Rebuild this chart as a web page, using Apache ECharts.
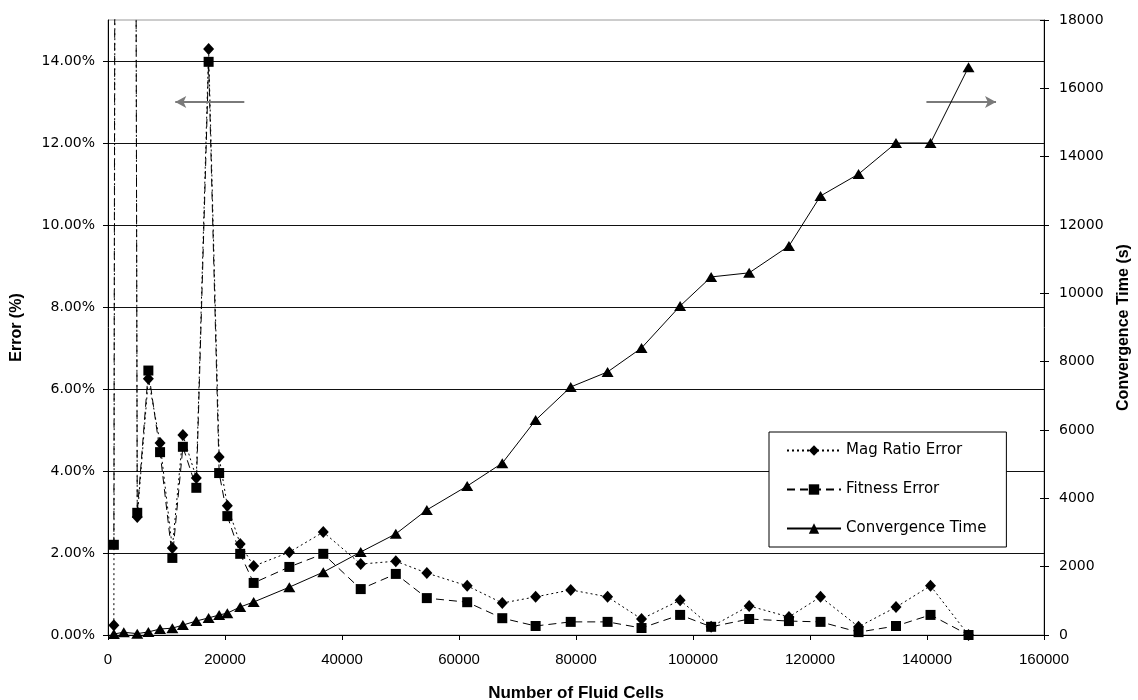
<!DOCTYPE html>
<html>
<head>
<meta charset="utf-8">
<title>Error and Convergence Time vs Number of Fluid Cells</title>
<script src="https://cdn.jsdelivr.net/npm/echarts@6/dist/echarts.min.js"></script>
<style>
  html, body { margin: 0; padding: 0; background: #fff; }
  #chart { width: 1138px; height: 700px; }
</style>
</head>
<body>
<div id="chart"></div>
<script>
// Mesh sizes (number of fluid cells) for each run
const fluidCells = [
  1000, 2700, 5000, 6900, 8900, 11000, 12800, 15100, 17200, 19000,
  20400, 22600, 24900, 31000, 36800, 43200, 49200, 54500, 61400, 67400,
  73100, 79100, 85400, 91200, 97800, 103100, 109600, 116400, 121800, 128300,
  134700, 140600, 147100
];

// Magnitude ratio error, percent
const magRatioError = [
  0.24, 150, 2.88, 6.25, 4.68, 2.12, 4.88, 3.83, 14.29, 4.34,
  3.15, 2.22, 1.68, 2.02, 2.51, 1.73, 1.80, 1.51, 1.20, 0.78,
  0.93, 1.10, 0.93, 0.39, 0.85, 0.20, 0.71, 0.44, 0.93, 0.20,
  0.68, 1.20, 0.00
];

// Fitness error, percent
const fitnessError = [
  2.20, 150, 2.98, 6.45, 4.46, 1.88, 4.59, 3.59, 13.98, 3.95,
  2.90, 1.98, 1.27, 1.66, 1.98, 1.12, 1.49, 0.90, 0.80, 0.41,
  0.22, 0.32, 0.32, 0.17, 0.49, 0.20, 0.39, 0.34, 0.32, 0.07,
  0.22, 0.49, 0.00
];

// Convergence time, seconds
const convergenceTime = [
  30, 80, 40, 90, 175, 200, 290, 410, 500, 585,
  640, 820, 965, 1400, 1840, 2430, 2960, 3660, 4360, 5030,
  6290, 7260, 7700, 8400, 9630, 10480, 10600, 11385, 12850, 13490,
  14400, 14400, 16620
];

const pair = (ys) => fluidCells.map((x, i) => [x, ys[i]]);
const plain = (v) => String(v);

const tickFont = { fontFamily: 'DejaVu Sans', fontSize: 14, color: '#000' };
const titleFont = { fontFamily: 'Liberation Sans', fontWeight: 'bold', fontSize: 16, color: '#000' };

const chart = echarts.init(document.getElementById('chart'), null, { renderer: 'canvas' });

chart.setOption({
  animation: false,
  backgroundColor: '#fff',
  grid: {
    left: 108, right: 94, top: 20, bottom: 65,
    containLabel: false,
    outerBoundsMode: 'none',
    show: true, borderColor: '#9a9a9a', borderWidth: 1, backgroundColor: 'transparent'
  },
  legend: {
    orient: 'vertical',
    left: 769, top: 432,
    backgroundColor: '#fff',
    borderColor: '#000', borderWidth: 1,
    padding: [11, 20, 11, 17],
    itemWidth: 54, itemHeight: 13, itemGap: 24,
    textStyle: { fontFamily: 'DejaVu Sans', fontSize: 15, color: '#000' },
    data: ['Mag Ratio Error', 'Fitness Error', 'Convergence Time']
  },
  xAxis: {
    type: 'value',
    min: 0, max: 160000, interval: 20000,
    name: 'Number of Fluid Cells',
    nameLocation: 'middle', nameGap: 50,
    nameTextStyle: { fontFamily: 'Liberation Sans', fontWeight: 'bold', fontSize: 17, color: '#000' },
    axisLine: { lineStyle: { color: '#000', width: 1 } },
    axisTick: { show: true, length: 5, lineStyle: { color: '#000' } },
    axisLabel: { margin: 17, fontFamily: 'Liberation Sans', fontSize: 15, color: '#000', formatter: plain },
    splitLine: { show: false }
  },
  yAxis: [
    {
      type: 'value',
      position: 'left',
      min: 0, max: 15, interval: 2,
      name: 'Error (%)',
      nameLocation: 'middle', nameGap: 83, nameRotate: 90,
      nameTextStyle: titleFont,
      axisLine: { show: true, lineStyle: { color: '#000', width: 1 } },
      axisTick: { show: true, length: 5, lineStyle: { color: '#000' } },
      axisLabel: Object.assign({
        margin: 13,
        showMaxLabel: false,
        formatter: (v) => v.toFixed(2) + '%'
      }, tickFont),
      splitLine: { show: true, showMaxLine: false, lineStyle: { color: '#111', width: 1 } }
    },
    {
      type: 'value',
      position: 'right',
      min: 0, max: 18000, interval: 2000,
      name: 'Convergence Time (s)',
      nameLocation: 'middle', nameGap: 72, nameRotate: 90,
      nameTextStyle: titleFont,
      axisLine: { show: true, lineStyle: { color: '#000', width: 1 } },
      axisTick: { show: true, length: 5, lineStyle: { color: '#000' } },
      axisLabel: Object.assign({ margin: 15, formatter: plain }, tickFont),
      splitLine: { show: false }
    },
    {
      // inner half of the cross ticks on the time axis
      type: 'value',
      position: 'right',
      min: 0, max: 18000, interval: 2000,
      axisLine: { show: false },
      axisTick: { show: true, inside: true, length: 4, lineStyle: { color: '#000' } },
      axisLabel: { show: false },
      splitLine: { show: false }
    }
  ],
  series: [
    {
      name: 'Mag Ratio Error',
      type: 'line',
      yAxisIndex: 0,
      data: pair(magRatioError),
      clip: true,
      symbol: 'diamond',
      symbolSize: [11, 12],
      itemStyle: { color: '#000' },
      lineStyle: { color: '#000', width: 1, type: [2, 3] },
      z: 3,
      markLine: {
        silent: true,
        symbol: ['none', 'arrow'],
        symbolSize: [9, 11],
        label: { show: false },
        lineStyle: { color: '#7a7a7a', width: 2, type: 'solid' },
        data: [
          [{ coord: [23300, 13] }, { coord: [11500, 13] }],
          [{ coord: [139900, 13] }, { coord: [151800, 13] }]
        ]
      }
    },
    {
      name: 'Fitness Error',
      type: 'line',
      yAxisIndex: 0,
      data: pair(fitnessError),
      clip: true,
      symbol: 'rect',
      symbolSize: 10,
      itemStyle: { color: '#000' },
      lineStyle: { color: '#000', width: 1, type: [8, 5] },
      z: 4
    },
    {
      name: 'Convergence Time',
      type: 'line',
      yAxisIndex: 1,
      data: pair(convergenceTime),
      clip: true,
      symbol: 'triangle',
      symbolSize: [12, 10],
      itemStyle: { color: '#000' },
      lineStyle: { color: '#000', width: 1, type: 'solid' },
      z: 5
    }
  ]
});
</script>
</body>
</html>
